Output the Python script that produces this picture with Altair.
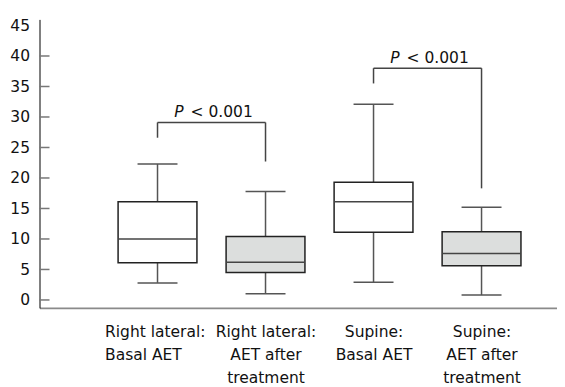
import json
import altair as alt
import pandas as pd

# ---- data ----
positions = [1, 2, 3, 4]
label_lines = [
    ["Right lateral:", "Basal AET"],
    ["Right lateral:", "AET after", "treatment"],
    ["Supine:", "Basal AET"],
    ["Supine:", "AET after", "treatment"],
]
phase = ["Basal", "After treatment", "Basal", "After treatment"]
whisker_low = [2.8, 1.0, 2.9, 0.8]
q1 = [6.1, 4.5, 11.1, 5.6]
median = [10.0, 6.2, 16.1, 7.6]
q3 = [16.1, 10.4, 19.3, 11.2]
whisker_high = [22.3, 17.8, 32.1, 15.2]

bracket_left = [1, 3]
bracket_right = [2, 4]
bracket_top = [29.1, 38.0]
bracket_left_end = [26.6, 35.5]
bracket_right_end = [22.7, 18.3]
p_symbol = ["P", "P"]
p_value = ["< 0.001", "< 0.001"]

y_tick_values = [0, 5, 10, 15, 20, 25, 30, 35, 40]
y_label_values = [0, 5, 10, 15, 20, 25, 30, 35, 40, 45]

# ---- tables ----
boxes = pd.DataFrame({
    "pos": positions, "phase": phase, "lo": whisker_low, "q1": q1,
    "med": median, "q3": q3, "hi": whisker_high,
})
brackets = pd.DataFrame({
    "left": bracket_left, "right": bracket_right, "top": bracket_top,
    "lend": bracket_left_end, "rend": bracket_right_end,
    "psym": p_symbol, "pval": p_value,
})
yticks = pd.DataFrame({"v": y_tick_values})

FONT = "DejaVu Sans"
FS = 15.5
BOX_HALF = 0.365
CAP_HALF = 0.185

xscale = alt.Scale(domain=[-0.0926, 4.694], nice=False, zero=False)
yscale = alt.Scale(domain=[-1.3, 46], nice=False, zero=False)

label_expr = json.dumps(label_lines) + "[datum.value - 1]"

xaxis = alt.Axis(values=positions, ticks=False, tickSize=0, grid=False, title=None,
                 domainColor="#8a8a8a", domainWidth=1.6, labelExpr=label_expr,
                 labelFont=FONT, labelFontSize=FS, labelColor="#111",
                 labelLineHeight=23.3, labelPadding=16.5, labelFlush=False,
                 labelOverlap=False, labelBound=False,
                 labelAlign={"condition": {"test": "datum.value == 1", "value": "left"},
                             "value": "center"},
                 labelOffset={"condition": {"test": "datum.value == 1", "value": -53},
                              "value": 0})
yaxis = alt.Axis(values=y_label_values, ticks=False, tickSize=0, grid=False, title=None,
                 domainColor="#000", domainWidth=1, labelFont=FONT, labelFontSize=FS,
                 labelColor="#111", labelPadding=10, labelFlush=False, labelOverlap=False)


def X(field, **kw):
    return alt.X(field, type="quantitative", scale=xscale, axis=xaxis, **kw)


def Y(field, **kw):
    return alt.Y(field, type="quantitative", scale=yscale, axis=yaxis, **kw)


base = alt.Chart(boxes).transform_calculate(
    bl=f"datum.pos - {BOX_HALF}", br=f"datum.pos + {BOX_HALF}",
    cl=f"datum.pos - {CAP_HALF}", cr=f"datum.pos + {CAP_HALF}",
)

whisk_up = base.mark_rule(color="#555", strokeWidth=1.5).encode(
    x=X("pos:Q"), y=Y("q3:Q"), y2="hi:Q")
whisk_dn = base.mark_rule(color="#555", strokeWidth=1.5).encode(
    x=X("pos:Q"), y=Y("lo:Q"), y2="q1:Q")
cap_up = base.mark_rule(color="#555", strokeWidth=1.5).encode(
    x=X("cl:Q"), x2="cr:Q", y=Y("hi:Q"))
cap_dn = base.mark_rule(color="#555", strokeWidth=1.5).encode(
    x=X("cl:Q"), x2="cr:Q", y=Y("lo:Q"))
box = base.mark_rect(stroke="#222", strokeWidth=1.5).encode(
    x=X("bl:Q"), x2="br:Q", y=Y("q1:Q"), y2="q3:Q",
    fill=alt.Fill("phase:N", scale=alt.Scale(domain=["Basal", "After treatment"],
                                             range=["#ffffff", "#dcdedd"]), legend=None))
med = base.mark_rule(color="#444", strokeWidth=1.5).encode(
    x=X("bl:Q"), x2="br:Q", y=Y("med:Q"))

bbase = alt.Chart(brackets).transform_calculate(mid="(datum.left + datum.right) / 2")
br_h = bbase.mark_rule(color="#444", strokeWidth=1.5).encode(
    x=X("left:Q"), x2="right:Q", y=Y("top:Q"))
br_l = bbase.mark_rule(color="#444", strokeWidth=1.5).encode(
    x=X("left:Q"), y=Y("top:Q"), y2="lend:Q")
br_r = bbase.mark_rule(color="#444", strokeWidth=1.5).encode(
    x=X("right:Q"), y=Y("top:Q"), y2="rend:Q")
p_sym = bbase.mark_text(font=FONT, fontSize=FS, fontStyle="italic", align="right",
                        baseline="alphabetic", dx=-28, dy=-5, color="#111").encode(
    x=X("mid:Q"), y=Y("top:Q"), text="psym:N")
p_val = bbase.mark_text(font=FONT, fontSize=FS, align="left",
                        baseline="alphabetic", dx=-21, dy=-5, color="#111").encode(
    x=X("mid:Q"), y=Y("top:Q"), text="pval:N")

ticks = alt.Chart(yticks).mark_rule(color="#777", strokeWidth=1.5).encode(
    y=Y("v:Q"), x=alt.value(0), x2=alt.value(10))

chart = alt.layer(
    ticks, whisk_up, whisk_dn, cap_up, cap_dn, box, med, br_h, br_l, br_r, p_sym, p_val
).properties(
    width=517, height=288.5,
    autosize=alt.AutoSizeParams(type="none"),
    padding={"left": 31.5, "top": 11.4, "right": 0, "bottom": 79},
).configure_view(stroke=None)

chart.save("out.html", embed_options={"renderer": "svg", "actions": False})
